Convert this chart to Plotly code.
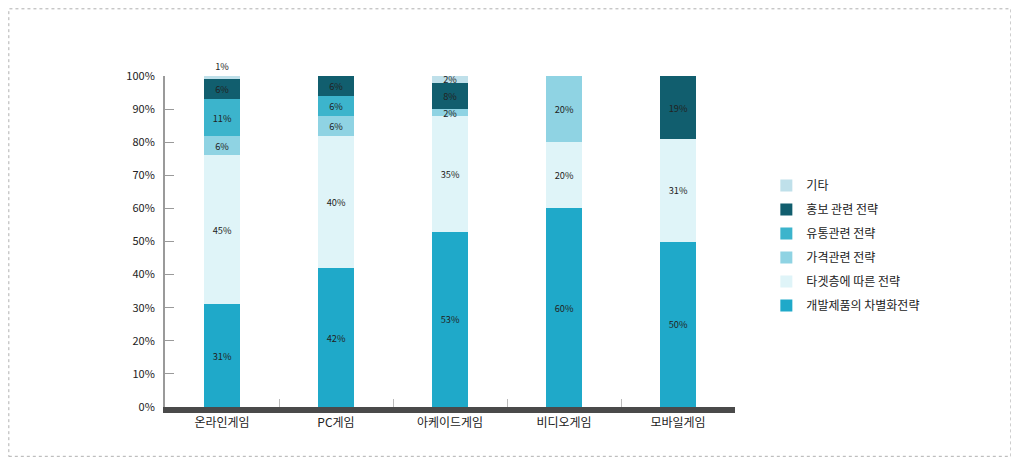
import plotly.graph_objects as go

categories = ["온라인게임", "PC게임", "아케이드게임", "비디오게임", "모바일게임"]
series_names = ["개발제품의 차별화전략", "타겟층에 따른 전략", "가격관련 전략", "유통관련 전략", "홍보 관련 전략", "기타"]
dev = [31, 42, 53, 60, 50]
target = [45, 40, 35, 20, 31]
price = [6, 6, 2, 20, 0]
distrib = [11, 6, 0, 0, 0]
promo = [6, 6, 8, 0, 19]
other = [1, 0, 2, 0, 0]
y_ticks = [0, 10, 20, 30, 40, 50, 60, 70, 80, 90, 100]

series_values = [dev, target, price, distrib, promo, other]
colors = ["#1fa9c9", "#dff4f8", "#8fd3e3", "#3cb4cc", "#115e6e", "#bfe0ea"]

font = "Noto Sans CJK KR"
fig = go.Figure()
n = len(series_names)
for i, (name, vals, col) in enumerate(zip(series_names, series_values, colors)):
    is_top = (i == n - 1)
    pos = ["outside" if (is_top and v <= 1) else "inside" for v in vals]
    fig.add_trace(go.Bar(
        x=categories, y=vals, name=name, legendgroup=name, legendrank=n - i,
        marker=dict(color=col, line=dict(width=0)),
        text=[f"{v}%" if v > 0 else "" for v in vals],
        textposition=pos, insidetextanchor="middle",
        textfont=dict(size=10, color="#222222", family=font),
        textangle=0, width=0.31, cliponaxis=False,
    ))

fig.update_layout(
    barmode="stack",
    width=1011, height=456,
    margin=dict(l=157, r=284, t=68, b=57),
    paper_bgcolor="white", plot_bgcolor="white",
    font=dict(family=font, size=11, color="#222222"),
    uniformtext=dict(minsize=8, mode="show"),
    legend=dict(x=1.055, y=0.713, xanchor="left", yanchor="top",
                traceorder="grouped", font=dict(size=12, family=font, color="#222222"),
                itemsizing="constant", tracegroupgap=5),
    showlegend=True,
)
fig.update_yaxes(
    range=[0, 100], tickvals=y_ticks, ticktext=[f"{t}%" for t in y_ticks],
    showgrid=False, zeroline=False, showline=True, linecolor="#9a9a9a", linewidth=2,
    ticks="inside", ticklen=9, tickcolor="#9a9a9a", ticklabelstandoff=6,
    tickfont=dict(size=11, family=font, color="#222222"),
)
fig.update_xaxes(
    showline=True, linecolor="#4a4a4a", linewidth=6,
    ticks="inside", tickson="boundaries", ticklen=8, tickcolor="#bbbbbb",
    tickfont=dict(size=12, family=font, color="#222222"),
    showgrid=False,
)
fig.add_shape(type="rect", xref="paper", yref="paper",
              x0=-0.274, x1=1.484, y0=-0.149, y1=1.203,
              line=dict(color="#b0b0b0", width=1, dash="dot"))

fig.write_html("out.html")
